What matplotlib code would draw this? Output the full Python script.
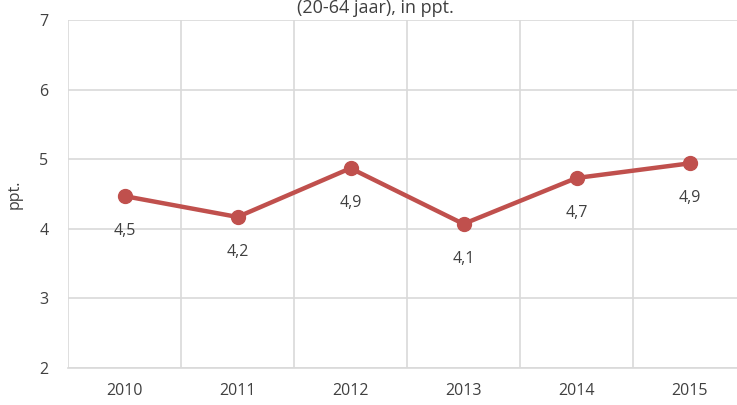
import matplotlib
matplotlib.use("Agg")
import matplotlib.pyplot as plt
import numpy as np

years = ["2010", "2011", "2012", "2013", "2014", "2015"]
values = [4.47, 4.17, 4.87, 4.07, 4.73, 4.94]
labels = ["4,5", "4,2", "4,9", "4,1", "4,7", "4,9"]

plt.rcParams['font.family'] = ['Open Sans', 'DejaVu Sans']

fig = plt.figure(figsize=(7.37, 4.05), dpi=100)
W, H = 737, 405
left, right, top, bottom = 68, 746, 20, 368
ax = fig.add_axes([left / W, 1 - bottom / H, (right - left) / W, (bottom - top) / H])

x = np.arange(len(years))
ax.plot(x, values, color="#C0504D", lw=3.2, marker="o", ms=10, zorder=3)
for xi, v, lab in zip(x, values, labels):
    ax.annotate(lab, (xi, v), xytext=(0, -25), textcoords="offset points",
                ha="center", va="center", fontsize=11.5, color="#404040")

ax.set_xlim(-0.5, 5.5)
ax.set_ylim(2, 7)
ax.set_yticks([2, 3, 4, 5, 6, 7])
ax.set_xticks(x)
ax.set_xticklabels(years)
ax.set_xticks(np.arange(-0.5, 6, 1), minor=True)
ax.grid(axis="y", which="major", color="#D9D9D9", lw=1.2)
ax.grid(axis="x", which="minor", color="#D9D9D9", lw=1.2)
ax.tick_params(which="both", length=0, labelsize=11.5, colors="#404040")
ax.tick_params(axis="y", pad=14)
ax.tick_params(axis="x", pad=11)
for s in ["top", "right", "left"]:
    ax.spines[s].set_visible(False)
ax.spines["bottom"].set_color("#D9D9D9")
ax.spines["bottom"].set_linewidth(1.2)
ax.set_ylabel("ppt.", fontsize=11.5, color="#404040", labelpad=12)

fig.text(375 / W, 1 - 8 / H, "(20-64 jaar), in ppt.", ha="center", va="center",
         fontsize=13, color="#404040")

fig.savefig("out.png", dpi=100)
